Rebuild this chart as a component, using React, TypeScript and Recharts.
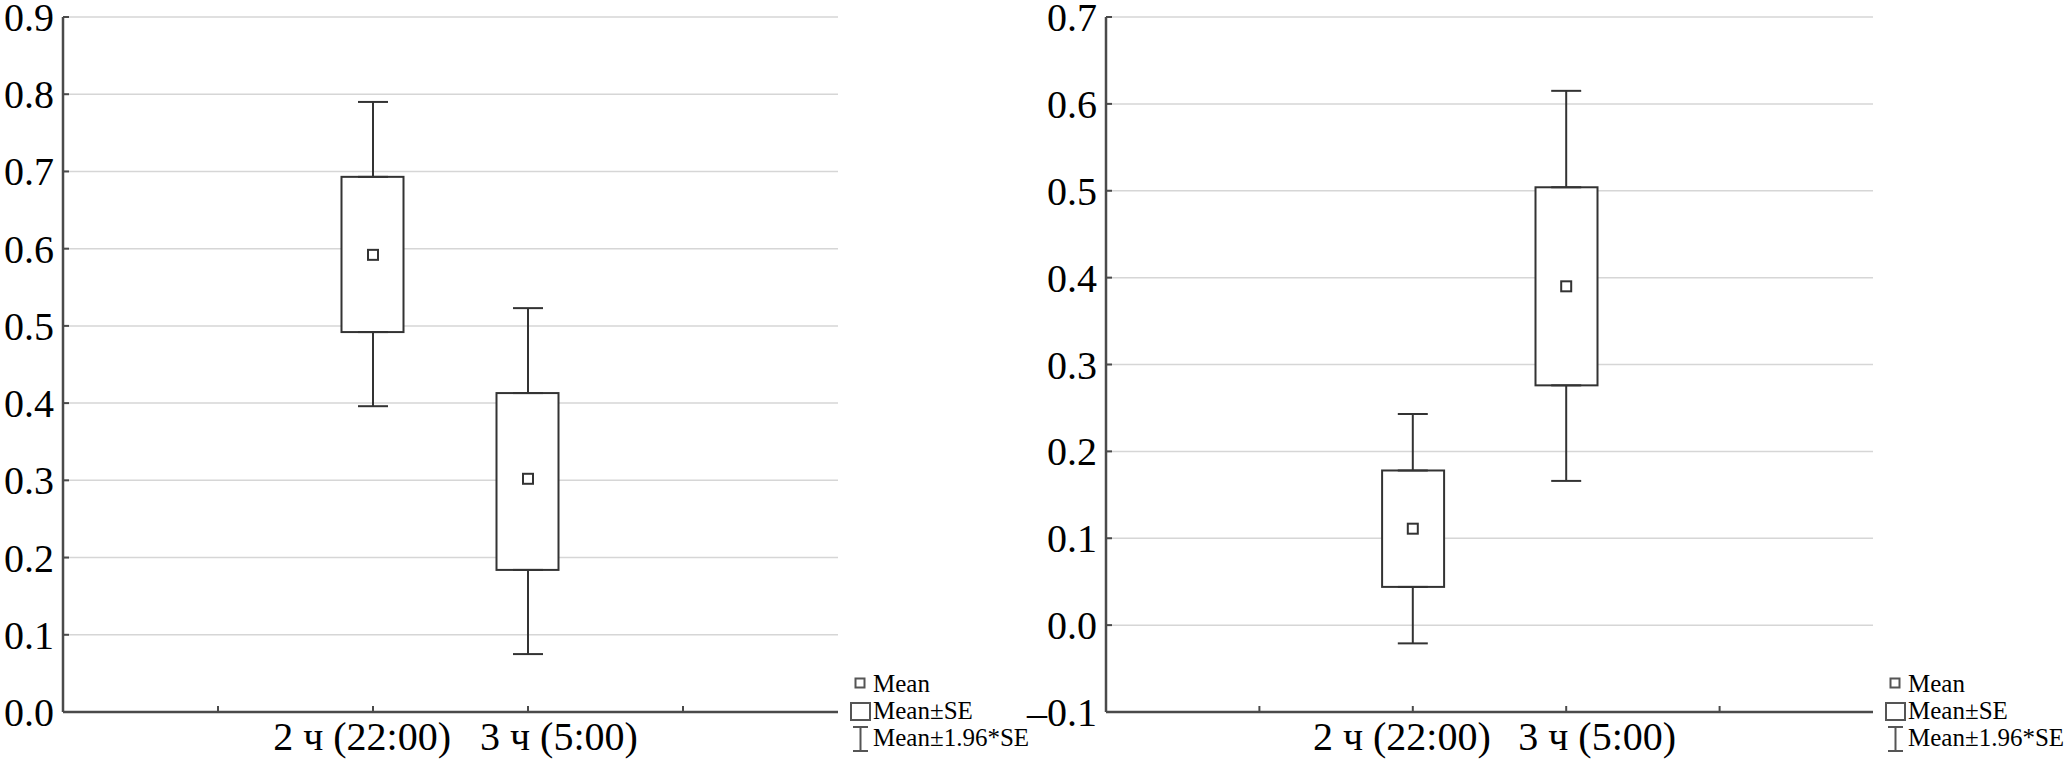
import React from 'react';
import { ComposedChart, Bar, Scatter, ErrorBar, XAxis, YAxis, CartesianGrid, Legend } from 'recharts';

// categories sit at x = 2 and 3 on a 0..5 axis, like the original Statistica plot
const CATEGORY_LABELS = ['2 ч (22:00)', '3 ч (5:00)'];
const CATEGORY_POS = [2, 3];
const X_TICKS = [1, 2, 3, 4];

// left panel
const LEFT_MEAN = [0.592, 0.302];
const LEFT_SE_LOW = [0.492, 0.184];
const LEFT_SE_HIGH = [0.693, 0.413];
const LEFT_CI_LOW = [0.396, 0.075];
const LEFT_CI_HIGH = [0.79, 0.523];
const LEFT_Y_TICKS = [0, 0.1, 0.2, 0.3, 0.4, 0.5, 0.6, 0.7, 0.8, 0.9];

// right panel
const RIGHT_MEAN = [0.111, 0.39];
const RIGHT_SE_LOW = [0.044, 0.276];
const RIGHT_SE_HIGH = [0.178, 0.504];
const RIGHT_CI_LOW = [-0.021, 0.166];
const RIGHT_CI_HIGH = [0.243, 0.615];
const RIGHT_Y_TICKS = [-0.1, 0, 0.1, 0.2, 0.3, 0.4, 0.5, 0.6, 0.7];

const LEGEND_LABELS = ['Mean', 'Mean±SE', 'Mean±1.96*SE'];

const FONT = "'Liberation Serif', 'Times New Roman', serif";
const FRAME = '#4a4a4a';
const INK = '#333333';
const GRID = '#d6d6d6';

// whiskers hang off the box edges, so the line never crosses the box
const buildRows = (mean: number[], seLow: number[], seHigh: number[], ciLow: number[], ciHigh: number[]) =>
  CATEGORY_POS.map((pos, i) => ({
    pos,
    mean: mean[i],
    se: [seLow[i], seHigh[i]],
    seLow: seLow[i],
    seHigh: seHigh[i],
    upErr: [0, ciHigh[i] - seHigh[i]],
    downErr: [seLow[i] - ciLow[i], 0],
  }));

const fmt = (v: number) => (v < 0 ? '\u2013' + Math.abs(v).toFixed(1) : v.toFixed(1));

const LeftTick = ({ x, y, payload }: any) => (
  <g>
    <line x1={x} x2={x + 6} y1={y} y2={y} stroke={FRAME} strokeWidth={2} />
    <text x={x - 9} y={y + 14} textAnchor="end" fontSize={40} fontFamily={FONT} fill="#000">
      {fmt(payload.value)}
    </text>
  </g>
);

const RightTick = ({ x, y }: any) => <line x1={x} x2={x - 6} y1={y} y2={y} stroke={FRAME} strokeWidth={2} />;

const TopTick = ({ x, y }: any) => <line x1={x} x2={x} y1={y} y2={y + 6} stroke={FRAME} strokeWidth={2} />;

const BottomTick = ({ x, y, payload }: any) => {
  const idx = CATEGORY_POS.indexOf(payload.value);
  // labels are wider than the category step, so they are pushed apart as in the source
  const first = idx === 0;
  return (
    <g>
      <line x1={x} x2={x} y1={y} y2={y - 6} stroke={FRAME} strokeWidth={2} />
      {idx >= 0 && (
        <text
          x={first ? x + 78 : x - 48}
          y={y + 38}
          textAnchor={first ? 'end' : 'start'}
          fontSize={40}
          fontFamily={FONT}
          fill="#000"
        >
          {CATEGORY_LABELS[idx]}
        </text>
      )}
    </g>
  );
};

const BoxShape = ({ x, y, width, height }: any) => (
  <rect x={x} y={y} width={width} height={height} fill="#fff" stroke={INK} strokeWidth={2} />
);

const MeanShape = ({ cx, cy }: any) => (
  <rect x={cx - 5} y={cy - 5} width={10} height={10} fill="#fff" stroke={INK} strokeWidth={2} />
);

const NoShape = () => <g />;

const LegendBox = () => (
  <svg width={200} height={96} style={{ display: 'block', overflow: 'visible' }}>
    <rect x={9.5} y={14.5} width={9} height={9} fill="#fff" stroke="#555" strokeWidth={2} />
    <rect x={5} y={39} width={19} height={17} fill="#fff" stroke="#555" strokeWidth={2} />
    <line x1={14.5} x2={14.5} y1={63} y2={87} stroke="#555" strokeWidth={2} />
    <line x1={7} x2={22} y1={63} y2={63} stroke="#555" strokeWidth={2} />
    <line x1={7} x2={22} y1={87} y2={87} stroke="#555" strokeWidth={2} />
    {LEGEND_LABELS.map((t, i) => (
      <text key={t} x={27} y={27.5 + i * 27} fontSize={25} fontFamily={FONT} fill="#000">
        {t}
      </text>
    ))}
  </svg>
);

interface PanelProps {
  rows: ReturnType<typeof buildRows>;
  yTicks: number[];
  width: number;
  marginLeft: number;
  marginRight: number;
}

const Panel: React.FC<PanelProps> = ({ rows, yTicks, width, marginLeft, marginRight }) => {
  const domain = [yTicks[0], yTicks[yTicks.length - 1]];
  return (
    <ComposedChart
      width={width}
      height={764}
      data={rows}
      margin={{ top: 17, right: marginRight, bottom: 0, left: marginLeft }}
    >
      <CartesianGrid vertical={false} stroke={GRID} strokeWidth={1.5} />
      <XAxis
        dataKey="pos"
        type="number"
        domain={[0, 5]}
        ticks={X_TICKS}
        interval={0}
        height={52}
        tickSize={0}
        tickMargin={0}
        tickLine={false}
        axisLine={{ stroke: FRAME, strokeWidth: 2.5 }}
        tick={(p: any) => <BottomTick {...p} />}
      />
      <XAxis
        xAxisId="top"
        orientation="top"
        type="number"
        domain={[0, 5]}
        ticks={X_TICKS}
        interval={0}
        height={0}
        tickSize={0}
        tickMargin={0}
        tickLine={false}
        axisLine={{ stroke: FRAME, strokeWidth: 2.5 }}
        tick={(p: any) => <TopTick {...p} />}
      />
      <YAxis
        type="number"
        domain={domain}
        ticks={yTicks}
        interval={0}
        width={60}
        tickSize={0}
        tickMargin={0}
        tickLine={false}
        axisLine={{ stroke: FRAME, strokeWidth: 2.5 }}
        tick={(p: any) => <LeftTick {...p} />}
      />
      <YAxis
        yAxisId="right"
        orientation="right"
        type="number"
        domain={domain}
        ticks={yTicks}
        interval={0}
        width={0}
        tickSize={0}
        tickMargin={0}
        tickLine={false}
        axisLine={{ stroke: FRAME, strokeWidth: 2.5 }}
        tick={(p: any) => <RightTick {...p} />}
      />
      <Bar dataKey="se" barSize={62} shape={<BoxShape />} legendType="none" isAnimationActive={false} />
      <Scatter dataKey="seHigh" shape={<NoShape />} legendType="none" isAnimationActive={false}>
        <ErrorBar dataKey="upErr" direction="y" width={15} stroke={INK} strokeWidth={2} isAnimationActive={false} />
      </Scatter>
      <Scatter dataKey="seLow" shape={<NoShape />} legendType="none" isAnimationActive={false}>
        <ErrorBar dataKey="downErr" direction="y" width={15} stroke={INK} strokeWidth={2} isAnimationActive={false} />
      </Scatter>
      <Scatter dataKey="mean" shape={<MeanShape />} legendType="none" isAnimationActive={false} />
      <Legend
        layout="horizontal"
        verticalAlign="middle"
        align="center"
        content={<LegendBox />}
        wrapperStyle={{ position: 'absolute', left: width - marginRight + 8, top: 664, width: 200 }}
      />
    </ComposedChart>
  );
};

const leftRows = buildRows(LEFT_MEAN, LEFT_SE_LOW, LEFT_SE_HIGH, LEFT_CI_LOW, LEFT_CI_HIGH);
const rightRows = buildRows(RIGHT_MEAN, RIGHT_SE_LOW, RIGHT_SE_HIGH, RIGHT_CI_LOW, RIGHT_CI_HIGH);

export default function App() {
  return (
    <div style={{ position: 'absolute', left: 0, top: 0, width: 2068, height: 764, background: '#fff' }}>
      <div style={{ position: 'absolute', left: 0, top: 0 }}>
        <Panel rows={leftRows} yTicks={LEFT_Y_TICKS} width={1010} marginLeft={3} marginRight={172} />
      </div>
      <div style={{ position: 'absolute', left: 1010, top: 0 }}>
        <Panel rows={rightRows} yTicks={RIGHT_Y_TICKS} width={1058} marginLeft={36} marginRight={195} />
      </div>
    </div>
  );
}
